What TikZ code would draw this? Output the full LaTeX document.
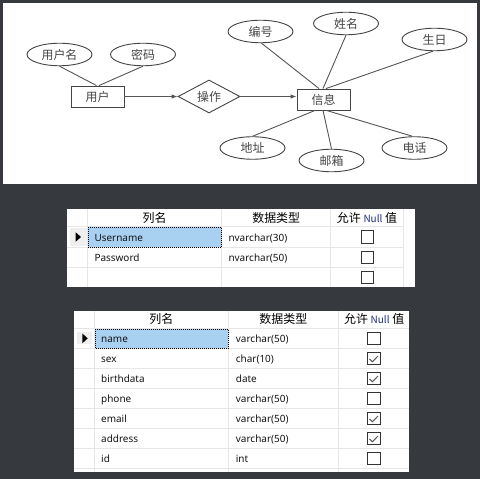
\documentclass[tikz,border=0pt]{standalone}
\usepackage{fontspec}
\setmainfont{Noto Sans}
\newfontfamily\cjk{Noto Sans CJK SC}
\usetikzlibrary{shapes.geometric,arrows.meta,calc}
\definecolor{bgdark}{HTML}{36393D}
\definecolor{erline}{HTML}{555555}
\definecolor{ertext}{HTML}{444444}
\definecolor{gridc}{HTML}{E6E6E6}
\definecolor{selc}{HTML}{A8D0F1}
\definecolor{rowhd}{HTML}{EFEFEF}
\definecolor{nullblue}{HTML}{1F2A7A}
\definecolor{cboxc}{HTML}{333333}
\definecolor{tickc}{HTML}{5A5A5A}
\definecolor{celltxt}{HTML}{141414}
\tikzset{
  erfont/.style={font=\cjk\fontsize{12}{12}\selectfont, text=ertext},
  attr/.style={ellipse, draw=ertext, line width=0.9bp, minimum width=65bp, minimum height=22.5bp, inner sep=0pt, erfont},
  entity/.style={rectangle, draw=ertext, line width=0.9bp, minimum width=53bp, minimum height=21bp, inner sep=0pt, erfont},
  rel/.style={diamond, aspect=2, draw=ertext, line width=0.9bp, minimum width=62bp, minimum height=33bp, inner sep=0pt, erfont},
  link/.style={draw=erline, line width=0.9bp},
  arrowlink/.style={link, -{Latex[length=6bp,width=4.5bp]}},
  gridline/.style={draw=gridc, line width=1bp},
  celltext/.style={anchor=base west, inner sep=0pt, font=\fontsize{10}{10}\selectfont, text=celltxt},
  headtext/.style={inner sep=0pt, font=\cjk\fontsize{12}{12}\selectfont, text=black},
  cbox/.style={rectangle, draw=cboxc, line width=1bp, fill=white, minimum size=12.6bp, inner sep=0pt},
  tick/.style={draw=tickc, line width=1bp},
  selcell/.style={fill=selc, draw=black, line width=1bp, dash pattern=on 1bp off 1bp},
}
\newcommand{\nullhead}{{\cjk 允许} {\fontsize{10}{10}\selectfont\color{nullblue}Null} {\cjk 值}}
\begin{document}
\begin{tikzpicture}[x=1bp,y=-1bp]
\useasboundingbox (0,0) rectangle (480,479);
\fill[bgdark] (0,0) rectangle (480,479);
\fill[white] (3,3) rectangle (477,184);

% ER diagram
\node[attr] (yhm) at (59.5,54.5) {用户名};
\node[attr] (mm) at (143,54.5) {密码};
\node[entity] (yh) at (97.5,96.5) {用户};
\node[rel] (cz) at (209,96.5) {操作};
\node[entity] (xx) at (323.5,99.5) {信息};
\node[attr] (bh) at (260.5,31.5) {编号};
\node[attr] (xm) at (346,23.5) {姓名};
\node[attr] (sr) at (434.5,39.5) {生日};
\node[attr] (dz) at (252.5,148) {地址};
\node[attr] (yx) at (331.5,160.5) {邮箱};
\node[attr] (dh) at (414.5,148) {电话};

\draw[link] (yhm.south) -- ([xshift=-1bp]yh.north);
\draw[link] (mm.south) -- ([xshift=1.5bp]yh.north);
\draw[arrowlink] (yh.east) -- (cz.west);
\draw[arrowlink] (cz.east) -- (cz.east -| xx.west);
\draw[link] ([xshift=1bp]bh.south) -- ([xshift=-4.5bp]xx.north);
\draw[link] (xm.south) -- ([xshift=-0.5bp]xx.north);
\draw[link] ([xshift=-1.5bp]sr.south) -- ([xshift=2.5bp]xx.north);
\draw[link] (dz.north) -- ([xshift=-8.5bp]xx.south);
\draw[link] (yx.north) -- ([xshift=-0.5bp]xx.south);
\draw[link] ([xshift=-2bp]dh.north) -- ([xshift=3bp]xx.south);

% Table 1
\fill[white] (66.7,209) rectangle (415,286.7);
\foreach \xv in {87.7,221.7,330.7,403.5} \draw[gridline] (\xv,209) -- (\xv,286.7);
\foreach \yv in {226.7,247.7,267.7} \draw[gridline] (66.7,\yv) -- (403.5,\yv);
\draw[selcell] (88.3,227.3) rectangle (221.7,247.3);
\fill[rowhd] (70,228.3) rectangle (87,245.5);
\fill[black] (75.7,232.3) -- (81,237) -- (75.7,241.7) -- cycle;
\node[headtext] (ta1) at (154.7,218.3) {列名};
\node[headtext] (ta2) at (276.2,218.3) {数据类型};
\node[headtext] (ta3) at (367,218.3) {\nullhead};
\node[celltext] (ta11) at (94.3,241.5) {Username};
\node[celltext] (ta12) at (228.3,241.5) {nvarchar(30)};
\node[cbox] (ta13) at (367.3,237.2) {};
\node[celltext] (ta21) at (94.3,261.5) {Password};
\node[celltext] (ta22) at (228.3,261.5) {nvarchar(50)};
\node[cbox] (ta23) at (367.3,257.4) {};
\node[cbox] (ta33) at (367.3,277.3) {};

% Table 2
\fill[white] (74,311) rectangle (409,472.3);
\foreach \xv in {94.3,228.3,338.3} \draw[gridline] (\xv,311) -- (\xv,472.3);
\foreach \k in {0,...,7} \draw[gridline] (74,328.3+20*\k) -- (409,328.3+20*\k);
\draw[selcell] (95,329) rectangle (228.3,348.3);
\fill[rowhd] (76.7,331.7) rectangle (91.7,344.3);
\fill[black] (82.3,333.5) -- (87.7,338.4) -- (82.3,343.3) -- cycle;
\node[headtext] (tb1) at (161.3,318.8) {列名};
\node[headtext] (tb2) at (283.3,318.8) {数据类型};
\node[headtext] (tb3) at (374.2,318.8) {\nullhead};
\foreach \nm/\ty/\ck [count=\i from 0] in {name/varchar(50)/0, sex/char(10)/1, birthdata/date/1, phone/varchar(50)/0, email/varchar(50)/1, address/varchar(50)/1, id/int/0} {
  \node[celltext] (tbn\i) at (101,342.5+20*\i) {\nm};
  \node[celltext] (tbt\i) at (235.7,342.5+20*\i) {\ty};
  \node[cbox] (tbc\i) at (373.7,338.6+20*\i) {};
  \ifnum\ck=1
    \draw[tick] ($(tbc\i.center)+(-4.3,0.3)$) -- ($(tbc\i.center)+(-1.3,3.1)$) -- ($(tbc\i.center)+(4.3,-2.6)$);
  \fi
}
\end{tikzpicture}
\end{document}
